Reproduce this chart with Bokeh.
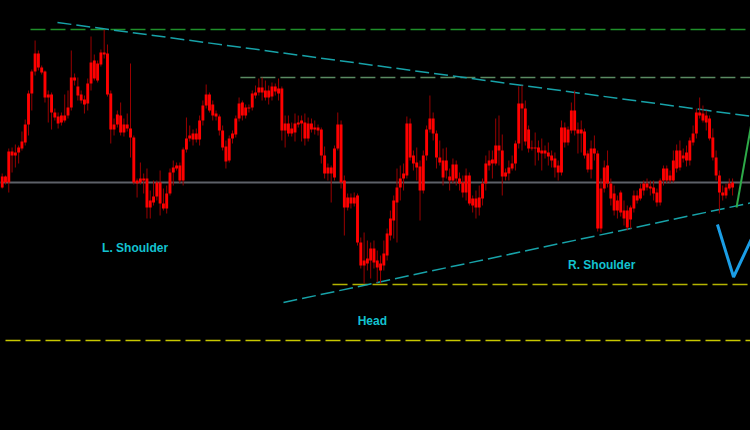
from bokeh.plotting import figure
from bokeh.models import Range1d, ColumnDataSource
from bokeh.embed import file_html
from bokeh.resources import INLINE
from bokeh.core.properties import value

# ---- candle data (price units, index = bar number) ----
body_top = [
    254, 254, 279, 279, 278, 283, 289, 306, 337, 359,
    377, 377, 363, 359, 336, 336, 318, 314, 315, 315,
    323, 353, 353, 344, 336, 331, 347, 368, 370, 367,
    378, 378, 377, 337, 306, 316, 315, 306, 306, 302,
    293, 250, 252, 252, 252, 230, 234, 248, 248, 227,
    237, 258, 263, 265, 265, 281, 292, 295, 297, 297,
    310, 325, 336, 336, 326, 317, 314, 300, 284, 292,
    297, 312, 327, 328, 323, 323, 337, 338, 343, 343,
    340, 340, 344, 344, 342, 342, 307, 307, 302, 307,
    308, 310, 308, 307, 307, 303, 303, 301, 275, 263,
    263, 282, 306, 306, 250, 233, 233, 233, 235, 188,
    170, 172, 182, 182, 170, 167, 177, 197, 212, 230,
    243, 252, 257, 307, 307, 275, 268, 264, 275, 301,
    312, 312, 297, 273, 270, 270, 254, 266, 266, 252,
    248, 255, 255, 232, 232, 233, 247, 267, 270, 271,
    285, 285, 280, 258, 263, 267, 287, 327, 327, 322,
    301, 283, 283, 283, 280, 280, 278, 275, 272, 265,
    303, 303, 301, 320, 320, 301, 301, 299, 277, 282,
    282, 277, 242, 263, 265, 247, 237, 230, 238, 220,
    220, 223, 235, 235, 242, 247, 247, 244, 243, 238,
    250, 262, 262, 255, 270, 280, 280, 275, 278, 290,
    297, 318, 318, 317, 315, 312, 293, 273, 255, 238,
    243, 247, 248,
]
body_bottom = [
    243, 248, 248, 275, 275, 278, 282, 288, 306, 337,
    359, 363, 358, 333, 333, 318, 313, 307, 308, 310,
    315, 323, 350, 335, 330, 326, 327, 347, 352, 350,
    366, 376, 336, 301, 301, 306, 298, 298, 302, 293,
    248, 247, 248, 250, 223, 223, 228, 234, 227, 222,
    222, 237, 258, 262, 250, 250, 281, 292, 291, 291,
    291, 310, 325, 320, 315, 314, 300, 283, 269, 270,
    292, 296, 312, 315, 315, 322, 323, 335, 338, 338,
    333, 333, 334, 339, 337, 300, 300, 297, 297, 298,
    306, 307, 292, 292, 301, 301, 300, 275, 257, 257,
    257, 253, 282, 248, 223, 223, 227, 227, 188, 165,
    165, 167, 170, 168, 163, 160, 165, 175, 195, 210,
    228, 243, 252, 255, 273, 267, 263, 240, 240, 275,
    301, 297, 273, 268, 253, 260, 250, 250, 252, 247,
    238, 238, 227, 225, 223, 223, 232, 247, 265, 267,
    267, 280, 254, 254, 257, 262, 267, 287, 322, 289,
    282, 282, 282, 278, 277, 277, 274, 270, 263, 258,
    258, 288, 288, 300, 300, 297, 297, 275, 261, 261,
    277, 202, 202, 242, 247, 232, 220, 220, 218, 212,
    203, 211, 222, 230, 232, 240, 243, 242, 237, 228,
    228, 250, 250, 250, 250, 262, 263, 272, 270, 270,
    288, 297, 315, 310, 308, 292, 273, 255, 238, 235,
    235, 242, 243,
]
high = [
    257, 255, 282, 283, 286, 285, 299, 311, 340, 361,
    390, 380, 365, 360, 340, 338, 322, 318, 318, 336,
    340, 380, 357, 353, 340, 335, 352, 394, 376, 370,
    381, 401, 386, 340, 312, 320, 328, 312, 317, 367,
    295, 252, 268, 257, 262, 240, 250, 250, 260, 242,
    245, 262, 270, 268, 268, 283, 313, 305, 301, 302,
    315, 330, 346, 338, 330, 320, 316, 305, 290, 295,
    300, 315, 333, 330, 326, 326, 340, 345, 352, 353,
    350, 345, 348, 347, 352, 344, 315, 315, 308, 317,
    315, 315, 317, 313, 312, 310, 306, 303, 284, 267,
    265, 285, 318, 310, 255, 237, 237, 238, 237, 193,
    198, 190, 188, 190, 180, 175, 190, 202, 220, 235,
    262, 265, 267, 314, 312, 280, 283, 270, 280, 305,
    335, 318, 300, 290, 282, 283, 262, 272, 270, 258,
    255, 262, 258, 235, 240, 245, 252, 275, 280, 280,
    312, 315, 296, 262, 270, 275, 290, 344, 345, 330,
    305, 290, 298, 290, 292, 285, 288, 280, 278, 270,
    310, 308, 304, 328, 340, 308, 310, 302, 280, 290,
    295, 280, 252, 270, 280, 252, 245, 235, 240, 230,
    225, 225, 240, 240, 247, 250, 252, 250, 250, 242,
    252, 265, 265, 260, 280, 286, 290, 282, 285, 293,
    305, 322, 333, 325, 320, 315, 302, 280, 260, 245,
    247, 252, 252,
]
low = [
    242, 246, 238, 258, 263, 267, 280, 285, 295, 320,
    355, 360, 356, 328, 308, 301, 310, 302, 305, 308,
    312, 320, 345, 330, 327, 317, 320, 340, 350, 348,
    364, 372, 334, 287, 295, 303, 295, 294, 299, 273,
    246, 233, 246, 237, 212, 212, 225, 230, 215, 220,
    217, 235, 245, 260, 247, 245, 278, 289, 285, 288,
    285, 305, 322, 318, 310, 310, 295, 280, 262, 268,
    287, 293, 309, 310, 312, 318, 320, 332, 335, 330,
    330, 326, 330, 335, 330, 290, 283, 294, 294, 289,
    303, 289, 285, 289, 298, 296, 295, 267, 252, 250,
    228, 250, 280, 242, 195, 220, 222, 224, 185, 162,
    147, 160, 152, 162, 148, 147, 160, 170, 190, 192,
    188, 230, 240, 252, 270, 260, 250, 210, 237, 270,
    298, 290, 262, 265, 245, 252, 240, 247, 245, 240,
    233, 230, 225, 218, 212, 215, 225, 240, 260, 252,
    265, 265, 235, 250, 250, 260, 260, 282, 280, 285,
    278, 280, 265, 270, 260, 272, 265, 263, 253, 250,
    255, 283, 285, 297, 295, 277, 278, 272, 258, 252,
    270, 199, 198, 238, 243, 225, 215, 212, 214, 205,
    200, 202, 218, 227, 230, 235, 240, 235, 230, 224,
    225, 245, 247, 247, 248, 258, 260, 268, 264, 265,
    285, 292, 312, 308, 300, 290, 270, 250, 217, 230,
    232, 240, 235,
]

# ---- horizontal levels ----
level_price = [401, 353, 248, 146, 90]
level_from = [8.6, 72.4, -2.0, 100.4, 1.0]
level_to = [229, 229, 229, 229, 229]
level_color = ["#1f8f2a", "#5a8a62", "#5d6168", "#b3b300", "#c8c800"]
level_dash = ["15 5", "15 5", "solid", "15 5", "15 5"]
level_width = [1.5, 1.5, 2.0, 1.5, 1.5]

# ---- trend lines (bar index, price) ----
upper_trend_x = [16.8, 228.0]
upper_trend_y = [408, 314]
lower_trend_x = [85.5, 228.0]
lower_trend_y = [128, 228]

# ---- projections ----
up_proj_x = [223.2, 228.1]
up_proj_y = [223, 314]
v_proj_x = [217.4, 222.3, 228.1]
v_proj_y = [206, 153.5, 194]

# ---- labels ----
label_text = ["L. Shoulder", "Head", "R. Shoulder"]
label_x = [40.4, 112.5, 182.2]
label_y = [182.5, 110, 166]

idx = list(range(len(high)))
src = ColumnDataSource(dict(x=idx, top=body_top, bottom=body_bottom, high=high, low=low))

p = figure(width=750, height=430, output_backend="svg", toolbar_location=None,
           x_range=Range1d(-0.517, 227.45), y_range=Range1d(0, 430),
           background_fill_color="black", border_fill_color="black",
           min_border=0)
p.axis.visible = False
p.grid.visible = False
p.outline_line_color = None

for pr, x0, x1, c, d, w in zip(level_price, level_from, level_to, level_color, level_dash, level_width):
    p.line([x0, x1], [pr, pr], line_color=c, line_dash=d, line_width=w)

p.line(upper_trend_x, upper_trend_y, line_color="#17a2a8", line_dash="14 5", line_width=1.5)
p.line(lower_trend_x, lower_trend_y, line_color="#17a2a8", line_dash="14 5", line_width=1.5)

p.segment(x0="x", y0="low", x1="x", y1="high", source=src, line_color="#9a0000", line_width=1)
p.vbar(x="x", width=0.88, top="top", bottom="bottom", source=src,
       fill_color="#ff0000", line_color=None)

p.line(up_proj_x, up_proj_y, line_color="#2eaa48", line_width=2)
p.line(v_proj_x, v_proj_y, line_color="#1b9ee6", line_width=3)

p.text(x=label_x, y=label_y, text=label_text, text_color="#13c2d0",
       text_font=value("Liberation Sans"), text_font_style="bold",
       text_font_size="12px", text_align="center", text_baseline="middle")

html = file_html(p, INLINE)
html = html.replace("</head>", "<style>html,body{background:#000;}</style></head>", 1)
open("out.html", "w").write(html)
